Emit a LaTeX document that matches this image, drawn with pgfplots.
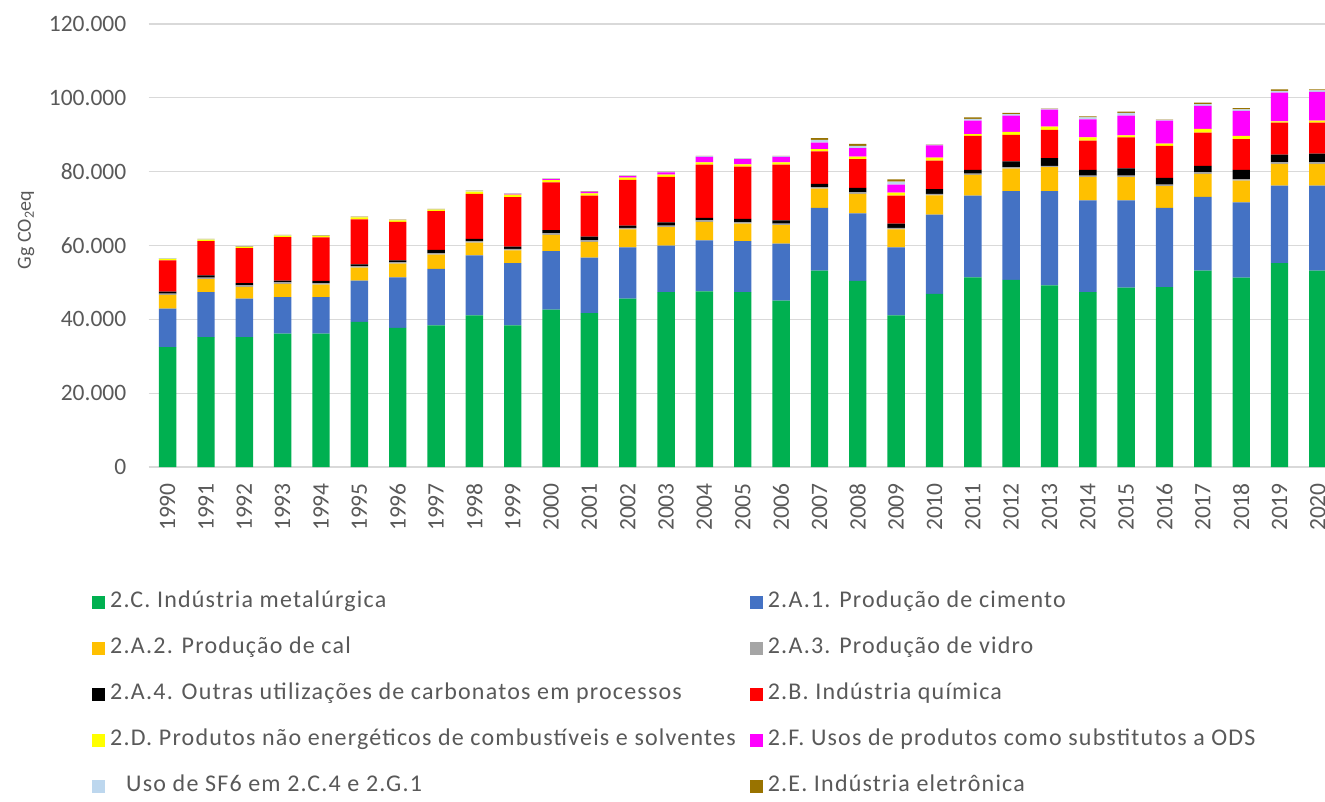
\documentclass[border=0pt]{standalone}
\usepackage{pgfplots}
\pgfplotsset{compat=1.18}
\usepackage{pgfplotstable}
\usepackage{fontspec}
\setmainfont{Carlito}
\newfontfamily\legfont[LetterSpace=5]{Carlito}
\definecolor{cg}{HTML}{00B050}
\definecolor{cb}{HTML}{4472C4}
\definecolor{co}{HTML}{FFC000}
\definecolor{cv}{HTML}{A5A5A5}
\definecolor{ck}{HTML}{000000}
\definecolor{cr}{HTML}{FF0000}
\definecolor{cy}{HTML}{FFFF00}
\definecolor{cp}{HTML}{FF00FF}
\definecolor{cs}{HTML}{BDD7EE}
\definecolor{ce}{HTML}{997300}
\definecolor{txt}{HTML}{595959}
\definecolor{gridc}{HTML}{D9D9D9}
\pgfplotstableread{
year g b o v k r y p s e
1990 32500 10400 3700 400 500 8500 400 0 100 100
1991 35200 12200 3500 400 600 9300 400 0 100 100
1992 35200 10400 3200 400 600 9500 300 0 100 100
1993 36100 9900 3600 400 500 11800 400 0 100 100
1994 36100 9900 3400 400 600 11800 400 0 100 100
1995 39300 11200 3500 400 500 12200 500 0 100 100
1996 37700 13700 3700 400 500 10400 400 0 100 100
1997 38400 15300 3800 400 900 10500 400 0 100 100
1998 41100 16200 3500 400 600 12200 600 0 200 100
1999 38400 16800 3500 400 600 13400 700 200 100 100
2000 42600 15900 4400 400 900 12900 600 300 100 100
2001 41700 15000 4300 400 1000 11100 600 400 100 100
2002 45600 13900 4900 400 600 12400 600 400 100 100
2003 47400 12600 5000 400 900 12300 600 600 200 100
2004 47600 13800 5000 400 700 14400 600 1500 200 100
2005 47400 13800 4700 400 900 14200 600 1400 200 100
2006 45100 15400 5000 400 900 15100 600 1500 200 100
2007 53200 17000 5200 400 900 8800 600 1800 700 500
2008 50400 18300 5300 400 1200 7800 700 2300 600 500
2009 41100 18400 4900 400 1100 7600 800 2200 800 600
2010 46900 21500 5200 400 1300 7700 800 3300 200 100
2011 51400 22100 5600 400 1000 9200 500 3600 500 400
2012 50700 24000 6100 400 1600 7200 800 4400 400 300
2013 49200 25500 6500 400 2100 7600 900 4600 200 100
2014 47400 24800 6300 400 1600 7900 900 4900 500 300
2015 48600 23600 6300 400 2000 8400 500 5400 700 400
2016 48700 21500 5900 400 1800 8700 600 6200 200 100
2017 53200 20000 6200 400 1800 9000 1000 6200 500 400
2018 51300 20400 5900 400 2500 8300 900 6800 400 300
2019 55200 21000 5900 400 2100 8700 300 7800 500 400
2020 53200 23000 5900 400 2400 8400 500 7800 400 300
}\data
\begin{document}
\begin{tikzpicture}
\begin{axis}[
  at={(148.5pt,-467pt)}, anchor=south west,
  scale only axis, width=1188.6pt, height=443pt,
  xmin=1989.5, xmax=2020.5, ymin=0, ymax=120000,
  enlargelimits=false,
  ybar stacked, bar width=17.4pt,
  legend image code/.code={\fill[#1] (0pt,-6.5pt) rectangle (13pt,6.5pt);},
  axis line style={draw=none},
  ymajorgrids, grid style={line width=1.3pt, color=gridc},
  major tick length=0pt,
  scaled y ticks=false,
  ytick={0,20000,40000,60000,80000,100000,120000},
  yticklabels={0,20.000,40.000,60.000,80.000,100.000,120.000},
  xtick={1990,1991,...,2020},
  /pgf/number format/assume math mode=true,
  xticklabel style={rotate=90, anchor=east, inner sep=0pt, xshift=-16pt,
    font=\fontsize{23.5}{26}\selectfont, text=txt, /pgf/number format/1000 sep={}},
  yticklabel style={font=\fontsize{23.5}{26}\selectfont, text=txt, inner sep=0pt, xshift=-22pt},
  legend columns=2,
  legend cell align=left,
  legend style={at={(axis description cs:-0.0475,-0.279)}, anchor=north west,
    draw=none, inner sep=0pt, row sep=23pt,
    font=\legfont\fontsize{24}{28}\selectfont, text=txt,
    nodes={inner xsep=5pt, inner ysep=0pt, text height=17pt, text depth=6pt},
    /tikz/every even column/.append style={column sep=9pt}},
]
\addplot[fill=cg, draw=none] table[x=year,y=g]{\data};
\addplot[fill=cb, draw=none] table[x=year,y=b]{\data};
\addplot[fill=co, draw=none] table[x=year,y=o]{\data};
\addplot[fill=cv, draw=none] table[x=year,y=v]{\data};
\addplot[fill=ck, draw=none] table[x=year,y=k]{\data};
\addplot[fill=cr, draw=none] table[x=year,y=r]{\data};
\addplot[fill=cy, draw=none] table[x=year,y=y]{\data};
\addplot[fill=cp, draw=none] table[x=year,y=p]{\data};
\addplot[fill=cs, draw=none] table[x=year,y=s]{\data};
\addplot[fill=ce, draw=none] table[x=year,y=e]{\data};
\addlegendentry{2.C. Indústria metalúrgica}
\addlegendentry{2.A.1. Produção de cimento}
\addlegendentry{2.A.2. Produção de cal}
\addlegendentry{2.A.3. Produção de vidro}
\addlegendentry{2.A.4. Outras utilizações de carbonatos em processos}
\addlegendentry{2.B. Indústria química}
\addlegendentry{2.D. Produtos não energéticos de combustíveis e solventes}
\addlegendentry{2.F. Usos de produtos como substitutos a ODS}
\addlegendentry{\hspace*{16pt}Uso de SF6 em 2.C.4 e 2.G.1}
\addlegendentry{2.E. Indústria eletrônica}
\end{axis}
\node[rotate=90, font=\fontsize{20}{24}\selectfont, text=txt] at (26pt,-230pt) {Gg CO\textsubscript{2}eq};
\pgfresetboundingbox
\path[use as bounding box] (0pt,0pt) rectangle (1325pt,-801pt);
\end{tikzpicture}
\end{document}
